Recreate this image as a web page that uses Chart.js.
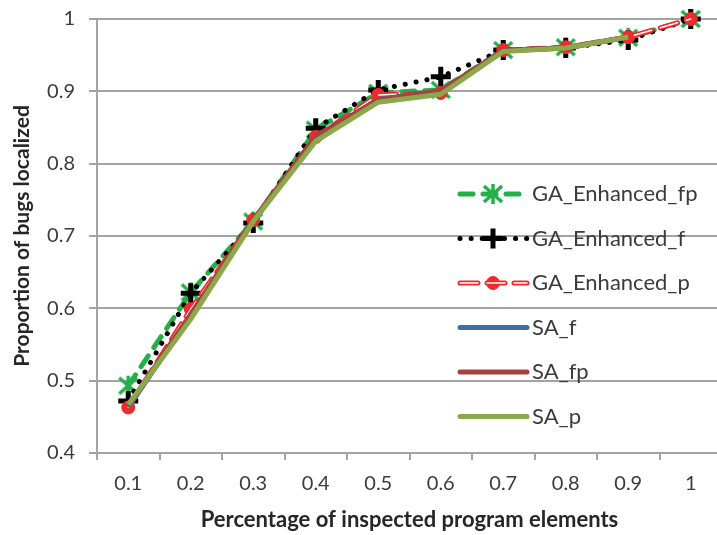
<!DOCTYPE html>
<html>
<head>
<meta charset="utf-8">
<title>Bug localization</title>
<script src="https://cdn.jsdelivr.net/npm/chart.js@4.4.1/dist/chart.umd.min.js"></script>
<style>
  html, body { margin: 0; padding: 0; background: #fff; overflow: hidden; }
  #wrap { width: 724px; height: 535px; position: relative; }
</style>
</head>
<body>
<div id="wrap"><canvas id="bugChart"></canvas></div>
<script>
// x categories (share of inspected program elements)
const categories = ['0.1', '0.2', '0.3', '0.4', '0.5', '0.6', '0.7', '0.8', '0.9', '1'];

// proportion of bugs localized per approach
const gaEnhancedFp = [0.493, 0.622, 0.720, 0.847, 0.898, 0.902, 0.957, 0.961, 0.974, 1.000];
const gaEnhancedF  = [0.472, 0.621, 0.718, 0.849, 0.902, 0.920, 0.957, 0.960, 0.971, 1.000];
const gaEnhancedP  = [0.463, 0.599, 0.722, 0.837, 0.895, 0.898, 0.957, 0.961, 0.975, 1.000];
const saF          = [0.463, 0.590, 0.721, 0.836, 0.889, 0.900, 0.956, 0.960, 0.975, null];
const saFp         = [0.465, 0.592, 0.722, 0.838, 0.888, 0.901, 0.956, 0.960, 0.975, null];
const saP          = [0.467, 0.585, 0.720, 0.831, 0.885, 0.896, 0.955, 0.960, 0.975, null];

// y axis range
const yMin = 0.4, yMax = 1, yStep = 0.1;

const FONT = 'Lato, "Open Sans", sans-serif';
const TEXT = '#3b3b3b';
const GRID = '#a3a3a3';

// green asterisk marker (X with a vertical bar)
function makeStar(color) {
  const c = document.createElement('canvas');
  c.width = 26; c.height = 26;
  const g = c.getContext('2d');
  g.strokeStyle = color;
  g.lineWidth = 3.5;
  g.lineCap = 'butt';
  g.beginPath();
  g.moveTo(4, 5); g.lineTo(22, 21);
  g.moveTo(22, 5); g.lineTo(4, 21);
  g.moveTo(13, 3); g.lineTo(13, 23);
  g.stroke();
  return c;
}
const starGreen = makeStar('#23b04b');

const datasets = [
  {
    label: 'GA_Enhanced_fp', data: gaEnhancedFp, order: 6,
    borderColor: '#23b04b', borderWidth: 5, borderDash: [13, 10], borderCapStyle: 'round',
    pointStyle: starGreen, pointRadius: 12, pointBackgroundColor: '#23b04b', pointBorderColor: '#23b04b'
  },
  {
    label: 'GA_Enhanced_f', data: gaEnhancedF, order: 5,
    borderColor: '#000', borderWidth: 5, borderDash: [0.1, 11], borderCapStyle: 'round',
    pointStyle: 'cross', pointRadius: 10, pointBorderWidth: 5, pointBorderColor: '#000'
  },
  {
    label: 'GA_Enhanced_p', data: gaEnhancedP, order: 4,
    borderColor: '#ee2a2a', borderWidth: 5, borderDash: [18, 9], borderCapStyle: 'round',
    pointStyle: 'circle', pointRadius: 6.5, pointBorderWidth: 1,
    pointBackgroundColor: '#ee2a2a', pointBorderColor: '#ee2a2a'
  },
  {
    // white core of the red double line
    label: 'GA_Enhanced_p core', inner: true, data: gaEnhancedP, order: 3,
    borderColor: '#fff', borderWidth: 1.5, borderDash: [18, 9], borderCapStyle: 'round',
    pointRadius: 0
  },
  {
    label: 'SA_f', data: saF, order: 2,
    borderColor: '#3d6ea9', borderWidth: 5, pointRadius: 0
  },
  {
    label: 'SA_fp', data: saFp, order: 1,
    borderColor: '#a5443f', borderWidth: 5, pointRadius: 0
  },
  {
    label: 'SA_p', data: saP, order: 0,
    borderColor: '#8ba84b', borderWidth: 5, pointRadius: 0
  }
];

// legend drawn inside the plot, on the right
const insideLegend = {
  id: 'insideLegend',
  afterDatasetsDraw(chart) {
    const ctx = chart.ctx;
    const x0 = 460, x1 = 527, xm = 493, xt = 532;
    let row = -1;
    chart.data.datasets.forEach(ds => {
      if (!ds.inner) row++;
      const y = 194 + row * 44.5;
      ctx.save();
      ctx.strokeStyle = ds.borderColor;
      ctx.lineWidth = ds.borderWidth;
      ctx.lineCap = ds.borderCapStyle || 'round';
      ctx.setLineDash(ds.borderDash || []);
      ctx.beginPath();
      ctx.moveTo(x0, y);
      ctx.lineTo(x1, y);
      ctx.stroke();
      ctx.restore();
      if (ds.inner) return;
      if (ds.pointRadius > 0) {
        ctx.save();
        ctx.fillStyle = ds.pointBackgroundColor || ds.pointBorderColor;
        ctx.strokeStyle = ds.pointBorderColor;
        ctx.lineWidth = ds.pointBorderWidth || 1;
        Chart.helpers.drawPoint(ctx, { pointStyle: ds.pointStyle, radius: ds.pointRadius, rotation: 0, borderWidth: ds.pointBorderWidth || 1 }, xm, y);
        ctx.restore();
      }
      ctx.save();
      ctx.fillStyle = TEXT;
      ctx.font = '22px ' + FONT;
      ctx.textBaseline = 'middle';
      ctx.fillText(ds.label, xt, y);
      ctx.restore();
    });
  }
};

new Chart(document.getElementById('bugChart'), {
  type: 'line',
  data: {
    labels: categories,
    datasets: datasets.map(d => Object.assign({ fill: false, tension: 0, clip: false, spanGaps: false }, d))
  },
  options: {
    responsive: true,
    maintainAspectRatio: false,
    animation: false,
    devicePixelRatio: 1,
    layout: { autoPadding: false, padding: { top: 19, right: 2, left: 0, bottom: 0 } },
    plugins: { legend: { display: false }, tooltip: { enabled: false } },
    scales: {
      x: {
        type: 'category',
        offset: true,
        border: { color: GRID, width: 2 },
        grid: { offset: true, drawOnChartArea: false, drawTicks: true, tickLength: 7, color: GRID, lineWidth: 2 },
        ticks: { color: TEXT, font: { family: FONT, size: 20 }, padding: 12, maxRotation: 0, autoSkip: false },
        title: { display: true, text: 'Percentage of inspected program elements', color: '#262626',
                 font: { family: FONT, size: 22, weight: 'bold' }, padding: { top: 4, bottom: 2 } },
        afterFit(scale) { scale.height = 82; }
      },
      y: {
        min: yMin, max: yMax,
        border: { color: GRID, width: 2 },
        grid: { color: GRID, lineWidth: 2, tickLength: 8 },
        ticks: { stepSize: yStep, color: TEXT, font: { family: FONT, size: 20 }, padding: 14,
                 callback: v => String(Number(v.toFixed(1))) },
        title: { display: true, text: 'Proportion of bugs localized', color: '#262626',
                 font: { family: FONT, size: 21, weight: 'bold' }, padding: { top: 10, bottom: 0 } },
        afterFit(scale) { scale.width = 97; scale.paddingTop = 0; scale.paddingBottom = 0; }
      }
    }
  },
  plugins: [insideLegend]
});
</script>
</body>
</html>
